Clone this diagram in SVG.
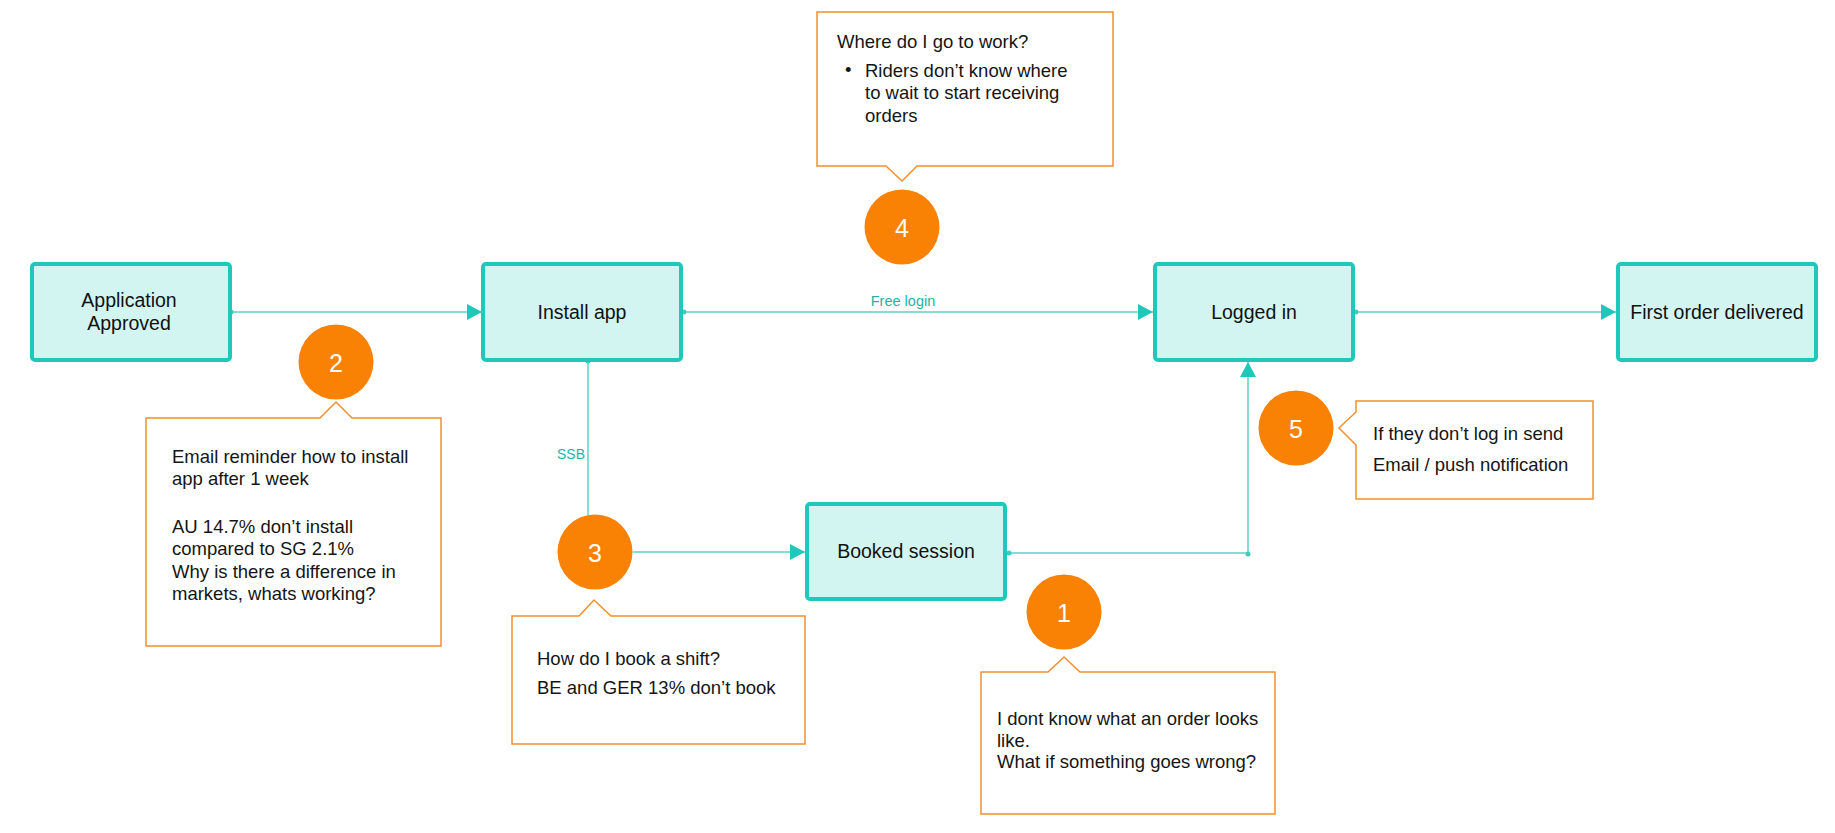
<svg xmlns="http://www.w3.org/2000/svg" width="1835" height="833" viewBox="0 0 1835 833">
<style>
.node rect{fill:#d2f5f1;stroke:#1fc8ba;stroke-width:4}
.node text{font-family:"Liberation Sans",Arial,sans-serif;font-size:19.5px;fill:#111;text-anchor:middle}
.conn{fill:none;stroke:#5cd3c8;stroke-width:1.5}
.dot{fill:#3ccdc0}
.lbl{font-family:"Liberation Sans",Arial,sans-serif;fill:#1fb3a6}
.badge circle{fill:#f98204}
.badge text{font-family:"Liberation Sans",Arial,sans-serif;font-size:25px;fill:#fff;text-anchor:middle}
.callout path{fill:#fff;stroke:#f0902c;stroke-width:1.5}
.callout text{font-family:"Liberation Sans",Arial,sans-serif;font-size:18.5px;fill:#151515}
</style>
<defs>
<marker id="arr" viewBox="0 0 15 16" refX="15" refY="8" markerWidth="15" markerHeight="16" markerUnits="userSpaceOnUse" orient="auto">
<path d="M0,0 L15,8 L0,16 Z" fill="#1fc8ba"/>
</marker>
</defs>
<rect width="1835" height="833" fill="#fff"/>

<g id="connectors">
<path class="conn" d="M231,312 H482" marker-end="url(#arr)"/>
<circle class="dot" cx="231" cy="312" r="2.5"/>
<path class="conn" d="M684,312 H1153" marker-end="url(#arr)"/>
<circle class="dot" cx="684" cy="312" r="2.5"/>
<text class="lbl" x="903" y="306" font-size="14.5" text-anchor="middle">Free login</text>
<path class="conn" d="M1356,312 H1616" marker-end="url(#arr)"/>
<circle class="dot" cx="1356" cy="312" r="2.5"/>
<path class="conn" d="M588,361 V515"/>
<circle class="dot" cx="588" cy="361" r="2.5"/>
<text class="lbl" x="585" y="459" font-size="14" text-anchor="end">SSB</text>
<path class="conn" d="M633,552 H805" marker-end="url(#arr)"/>
<path class="conn" d="M1009,553 H1248 V362" marker-end="url(#arr)"/>
<circle class="dot" cx="1009" cy="553" r="2.5"/>
<circle class="dot" cx="1248" cy="554" r="2.5"/>
</g>

<g id="node-application-approved" class="node">
<rect x="32" y="264" width="198" height="96" rx="3"/>
<text x="129" y="307">Application</text>
<text x="129" y="330">Approved</text>
</g>
<g id="node-install-app" class="node">
<rect x="483" y="264" width="198" height="96" rx="3"/>
<text x="582" y="319">Install app</text>
</g>
<g id="node-logged-in" class="node">
<rect x="1155" y="264" width="198" height="96" rx="3"/>
<text x="1254" y="319">Logged in</text>
</g>
<g id="node-first-order" class="node">
<rect x="1618" y="264" width="198" height="96" rx="3"/>
<text x="1717" y="319">First order delivered</text>
</g>
<g id="node-booked-session" class="node">
<rect x="807" y="504" width="198" height="95" rx="3"/>
<text x="906" y="558">Booked session</text>
</g>

<g id="callout-4" class="callout">
<path d="M817,12 H1113 V166 H917 L902,181 L886,166 H817 Z"/>
<text x="837" y="48">Where do I go to work?</text>
<text x="845" y="76" font-size="14">•</text>
<text x="865" y="77">Riders don’t know where</text>
<text x="865" y="99">to wait to start receiving</text>
<text x="865" y="122">orders</text>
</g>
<g id="badge-4" class="badge">
<circle cx="902" cy="227" r="37.5"/>
<text x="902" y="237">4</text>
</g>

<g id="callout-2" class="callout">
<path d="M146,418 H320 L336,402 L352,418 H441 V646 H146 Z"/>
<text x="172" y="463">Email reminder how to install</text>
<text x="172" y="485">app after 1 week</text>
<text x="172" y="533">AU 14.7% don’t install</text>
<text x="172" y="555">compared to SG 2.1%</text>
<text x="172" y="578">Why is there a difference in</text>
<text x="172" y="600">markets, whats working?</text>
</g>
<g id="badge-2" class="badge">
<circle cx="336" cy="362" r="37.5"/>
<text x="336" y="372">2</text>
</g>

<g id="callout-3" class="callout">
<path d="M512,616 H579 L594,600 L611,616 H805 V744 H512 Z"/>
<text x="537" y="665">How do I book a shift?</text>
<text x="537" y="694">BE and GER 13% don’t book</text>
</g>
<g id="badge-3" class="badge">
<circle cx="595" cy="552" r="37.5"/>
<text x="595" y="562">3</text>
</g>

<g id="callout-1" class="callout">
<path d="M981,672 H1048 L1064,657 L1080,672 H1275 V814 H981 Z"/>
<text x="997" y="725">I dont know what an order looks</text>
<text x="997" y="747">like.</text>
<text x="997" y="768">What if something goes wrong?</text>
</g>
<g id="badge-1" class="badge">
<circle cx="1064" cy="612" r="37.5"/>
<text x="1064" y="622">1</text>
</g>

<g id="callout-5" class="callout">
<path d="M1356,401 H1593 V499 H1356 V445 L1339,428 L1356,412 Z"/>
<text x="1373" y="440">If they don’t log in send</text>
<text x="1373" y="471">Email / push notification</text>
</g>
<g id="badge-5" class="badge">
<circle cx="1296" cy="428" r="37.5"/>
<text x="1296" y="438">5</text>
</g>
</svg>
